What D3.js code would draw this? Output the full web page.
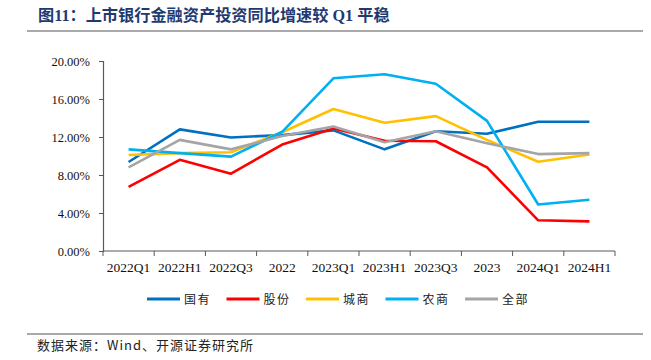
<!DOCTYPE html>
<html><head><meta charset="utf-8">
<script src="https://cdn.jsdelivr.net/npm/d3@7/dist/d3.min.js"></script>
<style>
html,body{margin:0;padding:0;background:#fff;}
svg{display:block;}
</style></head>
<body>
<svg id="c" width="651" height="360"></svg>
<script>
const categories = ["2022Q1","2022H1","2022Q3","2022","2023Q1","2023H1","2023Q3","2023","2024Q1","2024H1"];
const guoyou   = [9.37,12.8,11.95,12.2,12.7,10.7,12.6,12.35,13.6,13.6];
const gufen    = [6.74,9.6,8.14,11.2,12.9,11.6,11.55,8.8,3.23,3.12];
const chengshang = [10.1,10.3,10.4,12.5,14.95,13.5,14.2,11.7,9.4,10.15];
const nongshang  = [10.7,10.3,9.93,12.55,18.18,18.6,17.6,13.7,4.9,5.4];
const quanbu     = [8.8,11.7,10.7,12.1,13.1,11.45,12.6,11.35,10.2,10.3];
const seriesNames = ["国有","股份","城商","农商","全部"];
const seriesValues = [guoyou, gufen, chengshang, nongshang, quanbu];
const seriesColors = ["#0070C0","#FF0000","#FFC000","#00B0F0","#A5A5A5"];
const yTicks = [0,4,8,12,16,20];
const titleText = "图11：上市银行金融资产投资同比增速较 Q1 平稳";
const sourceText = "数据来源：Wind、开源证券研究所";

const svg = d3.select("#c");
const serif = "'Liberation Serif','Times New Roman',serif";
const cjk = "'Noto Sans CJK SC','Liberation Serif',serif";

// title
svg.append("text").attr("x",38).attr("y",21)
  .attr("font-family","'Liberation Serif','Noto Sans CJK SC',serif")
  .attr("font-weight","bold").attr("font-size",16.2)
  .attr("fill","#1F3A70").text(titleText);
svg.append("line").attr("x1",27).attr("x2",643).attr("y1",31).attr("y2",31)
  .attr("stroke","#8C8C8C").attr("stroke-width",1.6);
svg.append("line").attr("x1",27).attr("x2",643).attr("y1",334).attr("y2",334)
  .attr("stroke","#8C8C8C").attr("stroke-width",1.6);
svg.append("text").attr("x",37).attr("y",349.5)
  .attr("font-family",cjk).attr("font-size",13).attr("letter-spacing",1)
  .attr("fill","#222").text(sourceText);

const x = d3.scaleBand().domain(categories).range([103,615]);
const y = d3.scaleLinear().domain([0,20]).range([251,61]);

// y axis
const ya = svg.append("g").attr("transform","translate(103,0)")
  .call(d3.axisLeft(y).tickValues(yTicks).tickSize(4).tickPadding(9)
    .tickFormat(d => d.toFixed(2) + "%"));
ya.select(".domain").attr("stroke","#595959").attr("stroke-width",1.2);
ya.selectAll(".tick line").attr("stroke","#595959");
ya.selectAll("text").attr("font-family",serif).attr("font-size",12.5).attr("fill","#111");

// x axis
const xa = svg.append("g").attr("transform","translate(0,251)")
  .call(d3.axisBottom(x).tickSize(0).tickPadding(11));
xa.select(".domain").remove();
xa.selectAll("text").attr("font-family",serif).attr("font-size",13.5).attr("fill","#111");
xa.append("line").attr("x1",x.range()[0]).attr("x2",x.range()[1]).attr("y1",0).attr("y2",0)
  .attr("stroke","#595959").attr("stroke-width",1.2);
const bounds = categories.map(c => x(c)).concat([x.range()[1]]);
xa.selectAll(".btick").data(bounds).enter().append("line")
  .attr("x1",d=>d).attr("x2",d=>d).attr("y1",0).attr("y2",5)
  .attr("stroke","#595959");

// lines
const line = d3.line().x((d,i)=>x(categories[i]) + x.bandwidth()/2).y(d=>y(d));
seriesValues.forEach((vals,k)=>{
  svg.append("path").datum(vals).attr("d",line)
    .attr("fill","none").attr("stroke",seriesColors[k]).attr("stroke-width",2.6)
    .attr("stroke-linejoin","round");
});

// legend
const legX = d3.scalePoint().domain(seriesNames).range([147,465]);
const leg = svg.append("g");
seriesNames.forEach((n,k)=>{
  const lx = legX(n);
  leg.append("line").attr("x1",lx).attr("x2",lx+33).attr("y1",299).attr("y2",299)
    .attr("stroke",seriesColors[k]).attr("stroke-width",3);
  leg.append("text").attr("x",lx+37).attr("y",303.5)
    .attr("font-family",cjk).attr("font-size",12).attr("letter-spacing",1.5)
    .attr("fill","#222").text(n);
});
</script>
</body></html>
